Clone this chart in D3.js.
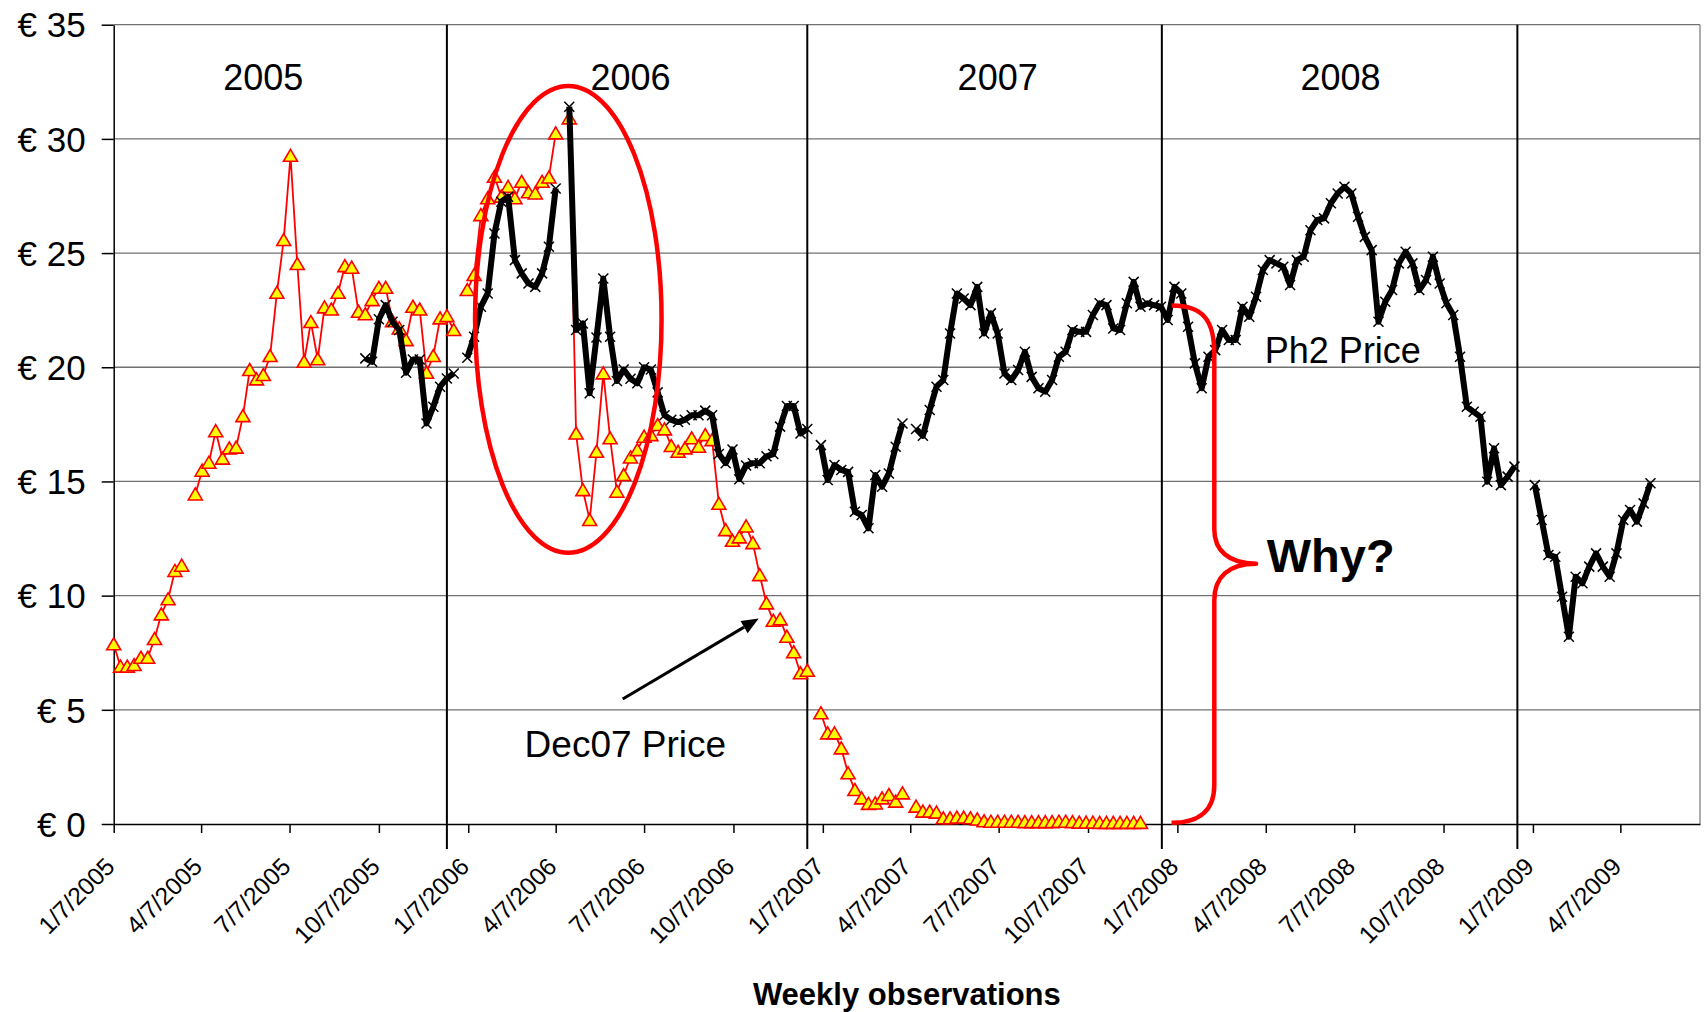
<!DOCTYPE html>
<html>
<head>
<meta charset="utf-8">
<script src="https://cdn.jsdelivr.net/npm/d3@7"></script>
<style>
body { margin: 0; background: #fff; }
svg { display: block; font-family: "Liberation Sans", Arial, sans-serif; }
</style>
</head>
<body>
<svg id="chart" width="1705" height="1012"></svg>
<script>
'use strict';

// weekly observations, null = week with no quote
var firstWeek = "2005-01-07";
var dec07Price = [
	7.87, 6.89, 6.89, 6.96, 7.28, 7.28, 8.1, 9.18, 9.84, 11.08,
	11.31, null, 14.43, 15.47, 15.82, 17.2, 16.0, 16.45, 16.48, 17.86,
	19.88, 19.47, 19.66, 20.49, 23.26, 25.57, 29.26, 24.52, 20.24, 21.98,
	20.35, 22.62, 22.53, 23.26, 24.43, 24.36, 22.43, 22.32, 22.94, 23.48,
	23.48, 22.02, 21.7, 21.19, 22.65, 22.53, 19.76, 20.49, 22.14, 22.24,
	21.63, null, 23.38, 24.04, 26.66, 27.4, 28.34, 27.47, 27.9, 27.4,
	28.12, 27.66, 27.61, 28.12, 28.31, 30.24, null, 30.9, 17.1, 14.62,
	13.31, 16.3, 19.73, 16.89, 14.55, 15.28, 16.05, 16.37, 16.96, 17.03,
	17.47, 17.28, 16.55, 16.3, 16.45, 16.89, 16.52, 17.03, 16.81, 14.02,
	12.87, 12.4, 12.55, 13.03, 12.3, 10.9, 9.66, 8.9, 8.96, 8.2,
	7.52, 6.6, 6.71, null, 4.85, 3.97, 3.97, 3.31, 2.22, 1.49,
	1.12, 0.88, 0.9, 1.12, 1.27, 0.98, 1.34, null, 0.76, 0.54,
	0.54, 0.5, 0.25, 0.25, 0.28, 0.28, 0.25, 0.2, 0.12, 0.1,
	0.1, 0.1, 0.1, 0.1, 0.08, 0.08, 0.08, 0.08, 0.08, 0.1,
	0.1, 0.08, 0.06, 0.06, 0.06, 0.05, 0.05, 0.05, 0.05, 0.05,
	0.05, 0.05
];

var ph2FirstWeek = "2005-09-23";
var ph2Price = [
	20.39, 20.24, 22.1, 22.72, 21.99, 21.63, 19.76, 20.34, 20.34, 17.54,
	18.27, 19.15, 19.51, 19.73, null, 20.42, 21.34, 22.65, 23.23, 25.86,
	27.25, 27.47, 24.69, 24.11, 23.67, 23.52, 24.11, 25.28, 27.83, null,
	31.41, 21.63, 21.92, 18.86, 21.3, 23.89, 21.34, 19.4, 19.9, 19.5,
	19.3, 20.0, 19.9, 18.9, 17.9, 17.7, 17.6, 17.7, 17.9, 17.9,
	18.1, 17.9, 16.2, 15.8, 16.4, 15.1, 15.7, 15.8, 15.8, 16.1,
	16.2, 17.4, 18.3, 18.3, 17.1, 17.3, null, 16.59, 15.06, 15.72,
	15.5, 15.42, 13.67, 13.53, 12.95, 15.28, 14.77, 15.35, 16.52, 17.54,
	null, 17.3, 17.0, 18.13, 19.15, 19.44, 21.48, 23.23, 23.01, 22.72,
	23.52, 21.48, 22.36, 21.48, 19.73, 19.44, 19.88, 20.68, 19.58, 19.08,
	18.93, 19.44, 20.46, 20.68, 21.63, 21.55, 21.55, 22.29, 22.8, 22.72,
	21.7, 21.63, 22.8, 23.74, 22.65, 22.8, 22.72, 22.65, 22.07, 23.52,
	23.23, 21.77, 20.17, 19.08, 20.46, 20.75, 21.63, 21.19, 21.19, 22.65,
	22.21, 23.09, 24.26, 24.69, 24.55, 24.4, 23.6, 24.69, 24.84, 26.0,
	26.45, 26.52, 27.18, 27.61, 27.9, 27.61, 26.59, 25.71, 25.13, 21.99,
	22.87, 23.38, 24.55, 25.06, 24.55, 23.38, 23.82, 24.84, 23.67, 22.8,
	22.29, 20.46, 18.27, 18.05, 17.83, 14.99, 16.45, 14.84, 15.21, 15.65,
	null, null, 14.84, 13.31, 11.78, 11.7, 9.95, 8.2, 10.83, 10.54,
	11.27, 11.85, 11.27, 10.83, 11.85, 13.31, 13.75, 13.24, 14.04, 14.92
];

var priceTicks = [0, 5, 10, 15, 20, 25, 30, 35];
var dateTickLabels = [
	"1/7/2005", "4/7/2005", "7/7/2005", "10/7/2005",
	"1/7/2006", "4/7/2006", "7/7/2006", "10/7/2006",
	"1/7/2007", "4/7/2007", "7/7/2007", "10/7/2007",
	"1/7/2008", "4/7/2008", "7/7/2008", "10/7/2008",
	"1/7/2009", "4/7/2009"
];
var yearNames = ["2005", "2006", "2007", "2008"];

var parseIso = d3.utcParse("%Y-%m-%d");
var parseLabel = d3.utcParse("%m/%d/%Y");

function toWeekly(start, values) {
	let t0 = parseIso(start);
	return values.map(function (v, i) {
		return {date: d3.utcDay.offset(t0, 7 * i), value: v};
	});
}

function drawChart(svgName) {
	let svg = d3.select(svgName),
	margin = {top: 24.7, right: 5, bottom: 188, left: 113.7},
	width = +svg.attr("width") - margin.left - margin.right,
	height = +svg.attr("height") - margin.top - margin.bottom,
	g = svg.append("g").attr("transform", "translate(" + margin.left + "," + margin.top + ")");

	let x = d3.scaleUtc()
		.domain([parseIso("2005-01-07"), parseIso("2009-06-28")])
		.range([0, width]);
	let y = d3.scaleLinear()
		.domain([0, 35])
		.range([height, 0]);

	// grid + frame
	g.selectAll(".grid")
		.data(priceTicks.filter(function (d) { return d > 0; }))
		.enter().append("line")
		.attr("class", "grid")
		.attr("x1", 0).attr("x2", width)
		.attr("y1", function (d) { return y(d); })
		.attr("y2", function (d) { return y(d); })
		.attr("stroke", "#707070")
		.attr("stroke-width", 1.3);
	g.append("line")
		.attr("x1", width).attr("x2", width)
		.attr("y1", 0).attr("y2", height)
		.attr("stroke", "#808080").attr("stroke-width", 1.3);

	// year dividers (hand drawn on the original)
	let yearBreaks = ["2005-12-16", "2006-12-22", "2007-12-22", "2008-12-22"];
	g.selectAll(".yearline")
		.data(yearBreaks)
		.enter().append("line")
		.attr("class", "yearline")
		.attr("x1", function (d) { return x(parseIso(d)); })
		.attr("x2", function (d) { return x(parseIso(d)); })
		.attr("y1", 0).attr("y2", height + 25)
		.attr("stroke", "#000").attr("stroke-width", 2);

	let yearPos = ["2005-06-10", "2006-06-23", "2007-07-06", "2008-06-23"];
	g.selectAll(".yearlabel")
		.data(yearNames)
		.enter().append("text")
		.attr("class", "yearlabel")
		.attr("x", function (d, i) { return x(parseIso(yearPos[i])); })
		.attr("y", y(32.15))
		.attr("text-anchor", "middle")
		.attr("font-size", 36)
		.text(function (d) { return d; });

	// axes
	let yAxis = g.append("g")
		.call(d3.axisLeft(y).tickValues(priceTicks).tickSize(12).tickSizeOuter(0).tickPadding(16)
			.tickFormat(function (d) { return "€ " + d; }));
	yAxis.selectAll("text").attr("font-size", 35).attr("fill", "#000").attr("dy", "0.35em");
	yAxis.selectAll("line, path").attr("stroke", "#000").attr("stroke-width", 1.5);

	let tickDates = dateTickLabels.map(function (s) { return parseLabel(s); });
	let xAxis = g.append("g")
		.attr("transform", "translate(0," + height + ")")
		.call(d3.axisBottom(x).tickValues(tickDates).tickSize(9).tickSizeOuter(0)
			.tickFormat(function (d, i) { return dateTickLabels[i]; }));
	xAxis.selectAll("line, path").attr("stroke", "#000").attr("stroke-width", 1.5);
	xAxis.selectAll("text")
		.attr("font-size", 24.5)
		.attr("fill", "#000")
		.attr("text-anchor", "end")
		.attr("y", 0).attr("dy", 0)
		.attr("transform", "translate(2,44) rotate(-45)");

	// Dec07 series
	let dec07 = toWeekly(firstWeek, dec07Price);
	let line = d3.line()
		.defined(function (d) { return d.value != null; })
		.x(function (d) { return x(d.date); })
		.y(function (d) { return y(d.value); });

	g.append("path")
		.datum(dec07)
		.attr("fill", "none")
		.attr("stroke", "#ff0000")
		.attr("stroke-width", 1.8)
		.attr("d", line);
	g.selectAll(".tri")
		.data(dec07.filter(function (d) { return d.value != null; }))
		.enter().append("path")
		.attr("class", "tri")
		.attr("transform", function (d) { return "translate(" + x(d.date) + "," + y(d.value) + ")"; })
		.attr("d", "M0,-6.5L7,5.5L-7,5.5Z")
		.attr("fill", "#ffff00")
		.attr("stroke", "#ff0000")
		.attr("stroke-width", 1.6);

	// Ph2 series
	let ph2 = toWeekly(ph2FirstWeek, ph2Price);
	g.append("path")
		.datum(ph2)
		.attr("fill", "none")
		.attr("stroke", "#000")
		.attr("stroke-width", 6)
		.attr("stroke-linejoin", "round")
		.attr("d", line);
	g.selectAll(".xmark")
		.data(ph2.filter(function (d) { return d.value != null; }))
		.enter().append("path")
		.attr("class", "xmark")
		.attr("transform", function (d) { return "translate(" + x(d.date) + "," + y(d.value) + ")"; })
		.attr("d", "M-5,-5L5,5M-5,5L5,-5")
		.attr("stroke", "#000")
		.attr("stroke-width", 1.5);

	// annotations
	let red = "#ff0000";
	let cx = x(parseIso("2006-04-20")), cy = y(22.1);
	g.append("ellipse")
		.attr("cx", cx).attr("cy", cy)
		.attr("rx", cx - x(parseIso("2006-01-14")))
		.attr("ry", y(22.1 - 10.22) - cy)
		.attr("fill", "none")
		.attr("stroke", red)
		.attr("stroke-width", 4.5);

	let bx0 = x(parseIso("2008-01-01")), bx1 = x(parseIso("2008-02-14")), bx2 = x(parseIso("2008-03-28"));
	let brace = d3.path();
	brace.moveTo(bx0, y(22.7));
	brace.bezierCurveTo(bx1 - 10, y(22.7), bx1, y(22.0), bx1, y(20.6));
	brace.lineTo(bx1, y(12.9));
	brace.bezierCurveTo(bx1, y(12.0), bx1 + 14, y(11.4), bx2, y(11.4));
	brace.bezierCurveTo(bx1 + 14, y(11.4), bx1, y(10.8), bx1, y(9.8));
	brace.lineTo(bx1, y(1.7));
	brace.bezierCurveTo(bx1, y(0.4), bx0 + 22, y(0.05), bx0, y(0.05));
	g.append("path")
		.attr("d", brace.toString())
		.attr("fill", "none")
		.attr("stroke", red)
		.attr("stroke-width", 4.5)
		.attr("stroke-linejoin", "round");

	// arrow to the Dec07 curve
	let sx = x(parseIso("2006-06-15")), sy = y(5.47);
	let tx = x(parseIso("2006-11-02")), ty = y(9.0);
	let len = Math.hypot(tx - sx, ty - sy), ux = (tx - sx) / len, uy = (ty - sy) / len;
	let hx = tx - 17 * ux, hy = ty - 17 * uy;
	g.append("line")
		.attr("x1", sx).attr("y1", sy).attr("x2", hx).attr("y2", hy)
		.attr("stroke", "#000").attr("stroke-width", 3);
	g.append("path")
		.attr("d", "M" + tx + "," + ty +
			"L" + (hx - 7 * uy) + "," + (hy + 7 * ux) +
			"L" + (hx + 7 * uy) + "," + (hy - 7 * ux) + "Z")
		.attr("fill", "#000");

	g.append("text")
		.attr("x", x(parseIso("2006-03-06"))).attr("y", y(2.93))
		.attr("font-size", 37)
		.text("Dec07 Price");
	g.append("text")
		.attr("x", x(parseIso("2008-04-06"))).attr("y", y(20.18))
		.attr("font-size", 36)
		.text("Ph2 Price");
	g.append("text")
		.attr("x", x(parseIso("2008-04-08"))).attr("y", y(11.05))
		.attr("font-size", 47)
		.attr("font-weight", "bold")
		.text("Why?");

	svg.append("text")
		.attr("x", margin.left + width / 2)
		.attr("y", 1005)
		.attr("text-anchor", "middle")
		.attr("font-size", 31)
		.attr("font-weight", "bold")
		.text("Weekly observations");
}

drawChart("#chart");
</script>
</body>
</html>
